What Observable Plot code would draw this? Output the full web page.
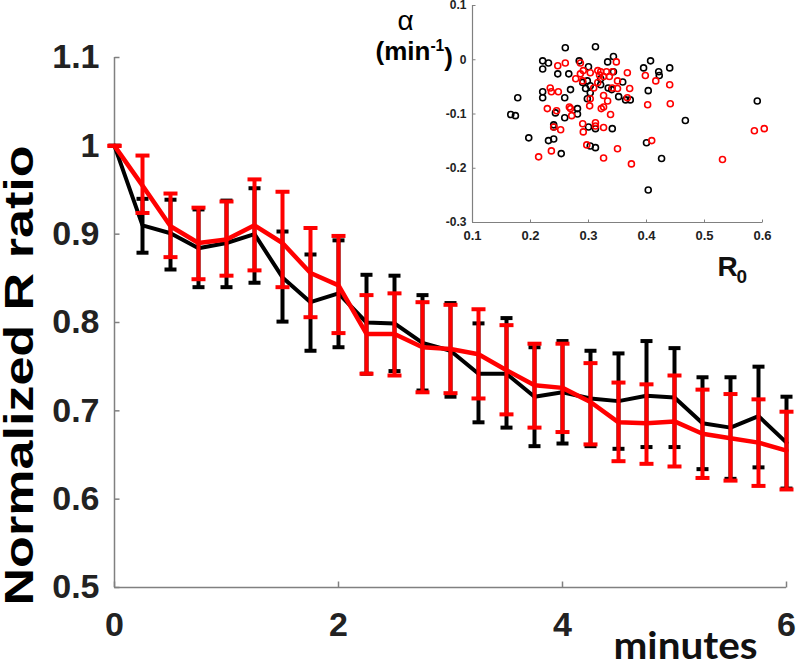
<!DOCTYPE html>
<html><head><meta charset="utf-8">
<script src="https://cdn.jsdelivr.net/npm/d3@7"></script>
<script src="https://cdn.jsdelivr.net/npm/@observablehq/plot@0.6"></script>
<style>
html,body{margin:0;padding:0;background:#fff;}
#wrap{position:relative;width:800px;height:666px;overflow:hidden;background:#fff;}
#wrap svg{position:absolute;left:0;top:0;}
</style></head><body><div id="wrap"></div>
<script>
// ---- main chart data ----
const minutes = [0,0.25,0.5,0.75,1,1.25,1.5,1.75,2,2.25,2.5,2.75,3,3.25,3.5,3.75,4,4.25,4.5,4.75,5,5.25,5.5,5.75,6];
const blackMean = [1.0,0.910,0.901,0.884,0.890,0.900,0.851,0.823,0.833,0.800,0.799,0.777,0.768,0.742,0.742,0.716,0.721,0.714,0.711,0.717,0.715,0.686,0.681,0.694,0.664];
const blackHi   = [1.0,0.940,0.939,0.928,0.938,0.952,0.903,0.877,0.893,0.854,0.853,0.831,0.822,0.799,0.805,0.772,0.779,0.768,0.765,0.779,0.771,0.738,0.738,0.750,0.716];
const blackLo   = [1.0,0.879,0.860,0.840,0.840,0.845,0.801,0.768,0.772,0.742,0.745,0.723,0.716,0.687,0.681,0.660,0.663,0.660,0.657,0.659,0.659,0.634,0.623,0.636,0.612];
const redMean = [1.0,0.955,0.909,0.890,0.894,0.910,0.890,0.856,0.842,0.787,0.787,0.772,0.770,0.764,0.746,0.729,0.726,0.710,0.687,0.686,0.688,0.674,0.669,0.664,0.655];
const redHi   = [1.0,0.989,0.946,0.930,0.937,0.962,0.948,0.907,0.898,0.831,0.833,0.823,0.820,0.815,0.797,0.776,0.776,0.754,0.732,0.730,0.740,0.724,0.719,0.713,0.699];
const redLo   = [1.0,0.924,0.874,0.849,0.853,0.859,0.840,0.806,0.788,0.742,0.740,0.721,0.720,0.714,0.696,0.681,0.676,0.662,0.643,0.640,0.637,0.624,0.621,0.615,0.611];
const xDomain = [0,6];
const yDomain = [0.5,1.1];
const xTicks = [0,2,4,6];
const yTicks = [0.5,0.6,0.7,0.8,0.9,1,1.1];

// ---- inset data ----
const blackR0 = [0.260,0.312,0.221,0.231,0.221,0.178,0.221,0.221,0.247,0.266,0.284,0.300,0.333,0.343,0.298,0.290,0.303,0.295,0.303,0.298,0.269,0.259,0.281,0.243,0.259,0.321,0.407,0.395,0.440,0.421,0.422,0.343,0.359,0.321,0.334,0.340,0.403,0.352,0.364,0.372,0.591,0.467,0.341,0.400,0.426,0.403,0.166,0.174,0.197,0.231,0.240,0.253,0.240,0.240,0.300,0.312,0.303,0.312,0.281];
const blackAlpha = [0.022,0.024,-0.002,-0.006,-0.017,-0.070,-0.059,-0.070,-0.026,-0.026,-0.002,-0.013,-0.004,0.006,-0.039,-0.042,-0.048,-0.053,-0.061,-0.072,-0.055,-0.070,-0.090,-0.098,-0.107,-0.035,-0.002,-0.015,-0.015,-0.022,-0.029,-0.022,-0.041,-0.046,-0.052,-0.055,-0.057,-0.068,-0.074,-0.074,-0.076,-0.112,-0.127,-0.153,-0.182,-0.240,-0.101,-0.103,-0.144,-0.149,-0.146,-0.173,-0.120,-0.124,-0.124,-0.127,-0.159,-0.162,-0.100];
const redR0 = [0.247,0.260,0.286,0.278,0.286,0.291,0.303,0.316,0.319,0.316,0.309,0.234,0.236,0.248,0.229,0.245,0.267,0.269,0.302,0.303,0.290,0.348,0.321,0.331,0.341,0.326,0.336,0.367,0.398,0.416,0.350,0.440,0.341,0.350,0.371,0.326,0.333,0.367,0.402,0.441,0.326,0.322,0.338,0.326,0.586,0.603,0.409,0.350,0.326,0.374,0.531,0.214,0.236,0.240,0.252,0.271,0.290,0.291,0.297,0.312,0.312];
const redAlpha = [-0.011,-0.006,-0.006,-0.035,-0.026,-0.020,-0.024,-0.020,-0.028,-0.042,-0.052,-0.052,-0.059,-0.059,-0.090,-0.094,-0.087,-0.090,-0.085,-0.072,-0.039,-0.004,-0.022,-0.022,-0.022,-0.031,-0.031,-0.024,-0.029,-0.039,-0.039,-0.046,-0.052,-0.053,-0.053,-0.066,-0.076,-0.070,-0.083,-0.081,-0.087,-0.090,-0.101,-0.125,-0.131,-0.127,-0.149,-0.164,-0.181,-0.192,-0.184,-0.179,-0.168,-0.124,-0.129,-0.103,-0.118,-0.133,-0.157,-0.116,-0.122];
const insetXDomain = [0.1,0.6];
const insetYDomain = [-0.3,0.1];
const insetXTicks = [0.1,0.2,0.3,0.4,0.5,0.6];
const insetYTicks = [-0.3,-0.2,-0.1,0,0.1];

const BLACK = "#000000", RED = "#ff0000", AXIS = "#808080", LABEL = "#222222";
const SANS = "'Liberation Sans', Arial, sans-serif";

const black = minutes.map((t,i)=>({t, mean:blackMean[i], hi:blackHi[i], lo:blackLo[i]}));
const red = minutes.map((t,i)=>({t, mean:redMean[i], hi:redHi[i], lo:redLo[i]}));
const blackPts = blackR0.map((r,i)=>({r, a:blackAlpha[i]}));
const redPts = redR0.map((r,i)=>({r, a:redAlpha[i]}));

// custom symbols
const capSym = {draw(ctx,size){const r=Math.sqrt(size/Math.PI);ctx.moveTo(-r,0);ctx.lineTo(r,0);}};
const tickRight = {draw(ctx,size){const r=Math.sqrt(size/Math.PI);ctx.moveTo(0,0);ctx.lineTo(r,0);}};
const tickUp = {draw(ctx,size){const r=Math.sqrt(size/Math.PI);ctx.moveTo(0,0);ctx.lineTo(0,-r);}};

const main = Plot.plot({
  width:800, height:666,
  marginLeft:114, marginRight:14, marginTop:57, marginBottom:79,
  style:{fontFamily:SANS, background:"transparent", overflow:"visible"},
  x:{domain:xDomain}, y:{domain:yDomain},
  marks:[
    Plot.ruleX([xDomain[0]], {stroke:AXIS, strokeWidth:1.5}),
    Plot.ruleY([yDomain[0]], {stroke:AXIS, strokeWidth:1.5}),
    Plot.dot(yTicks, {y:d=>d, frameAnchor:"left", symbol:tickRight, r:5, stroke:AXIS, strokeWidth:1.5, fill:"none"}),
    Plot.dot(xTicks, {x:d=>d, frameAnchor:"bottom", symbol:tickUp, r:6, stroke:AXIS, strokeWidth:1.5, fill:"none"}),
    Plot.axisY({ticks:yTicks, tickSize:0, tickPadding:15, fontSize:34, fontWeight:"bold", fill:LABEL, tickFormat:d=>String(d), label:null}),
    Plot.axisX({ticks:xTicks, tickSize:0, tickPadding:24, fontSize:34, fontWeight:"bold", fill:LABEL, tickFormat:d=>String(d), label:null}),
    // black series
    Plot.ruleX(black, {x:"t", y1:"lo", y2:"hi", stroke:BLACK, strokeWidth:4}),
    Plot.dot(black, {x:"t", y:"hi", symbol:capSym, r:6, stroke:BLACK, strokeWidth:4, fill:"none"}),
    Plot.dot(black, {x:"t", y:"lo", symbol:capSym, r:6, stroke:BLACK, strokeWidth:4, fill:"none"}),
    Plot.line(black, {x:"t", y:"mean", stroke:BLACK, strokeWidth:4}),
    // red series
    Plot.ruleX(red, {x:"t", y1:"lo", y2:"hi", stroke:RED, strokeWidth:4}),
    Plot.dot(red, {x:"t", y:"hi", symbol:capSym, r:7, stroke:RED, strokeWidth:4, fill:"none"}),
    Plot.dot(red, {x:"t", y:"lo", symbol:capSym, r:7, stroke:RED, strokeWidth:4, fill:"none"}),
    Plot.line(red, {x:"t", y:"mean", stroke:RED, strokeWidth:4.5}),
    // titles
    Plot.text(["Normalized R ratio"], {frameAnchor:"left", textAnchor:"start", rotate:-90, dx:-94, dy:283, fontSize:40, fontWeight:"bold", fill:"#000", fontFamily:SANS}),
    Plot.text(["minutes"], {frameAnchor:"bottom-right", textAnchor:"start", dx:-173, dy:71, fontSize:38, fontWeight:"bold", fill:"#111", fontFamily:"Lato, 'Open Sans', sans-serif"})
  ]
});

const inset = Plot.plot({
  width:800, height:666,
  marginLeft:472, marginRight:38, marginTop:5, marginBottom:444,
  style:{fontFamily:SANS, background:"transparent", overflow:"visible"},
  x:{domain:insetXDomain}, y:{domain:insetYDomain},
  marks:[
    Plot.ruleX([insetXDomain[0]], {stroke:AXIS, strokeWidth:1.2}),
    Plot.ruleY([insetYDomain[0]], {stroke:AXIS, strokeWidth:1.2}),
    Plot.dot(insetYTicks, {y:d=>d, frameAnchor:"left", symbol:tickRight, r:3, stroke:AXIS, strokeWidth:1, fill:"none"}),
    Plot.dot(insetXTicks, {x:d=>d, frameAnchor:"bottom", symbol:tickUp, r:3, stroke:AXIS, strokeWidth:1, fill:"none"}),
    Plot.axisY({ticks:insetYTicks, tickSize:0, tickPadding:6, fontSize:12, fontWeight:"bold", fill:LABEL, tickFormat:d=>String(d), label:null}),
    Plot.axisX({ticks:insetXTicks, tickSize:0, tickPadding:8, fontSize:13, fontWeight:"bold", fill:LABEL, tickFormat:d=>String(d), label:null}),
    Plot.dot(blackPts, {x:"r", y:"a", r:3, stroke:BLACK, strokeWidth:1.6, fill:"none"}),
    Plot.dot(redPts, {x:"r", y:"a", r:3, stroke:RED, strokeWidth:1.6, fill:"none"}),
    Plot.text(["α"], {frameAnchor:"top-left", textAnchor:"start", dx:-75, dy:5, fontSize:28, fill:"#000", fontFamily:SANS}),
    Plot.text(["(min-1)"], {frameAnchor:"top-left", textAnchor:"start", dx:-97, dy:36, fontSize:26, fontWeight:"bold", fill:"#000", fontFamily:SANS}),
    Plot.text(["R"], {frameAnchor:"bottom-right", textAnchor:"start", dx:-45, dy:53, fontSize:28, fontWeight:"bold", fill:"#111", fontFamily:SANS}),
    Plot.text(["0"], {frameAnchor:"bottom-right", textAnchor:"start", dx:-26, dy:60, fontSize:19, fontWeight:"bold", fill:"#111", fontFamily:SANS})
  ]
});

const wrap = document.getElementById("wrap");
wrap.appendChild(main);
wrap.appendChild(inset);

// text stretching to match the reference proportions
d3.select(main).selectAll("text").filter(function(){return this.textContent==="Normalized R ratio";})
  .attr("textLength",460).attr("lengthAdjust","spacingAndGlyphs");
d3.select(main).selectAll("text").filter(function(){return this.textContent==="minutes";})
  .attr("textLength",144).attr("lengthAdjust","spacingAndGlyphs");
// superscript for (min-1)
d3.select(inset).selectAll("text").filter(function(){return this.textContent==="(min-1)";})
  .each(function(){
    const t = d3.select(this);
    t.text("");
    t.append("tspan").text("(min");
    t.append("tspan").attr("dy","-0.55em").attr("font-size","60%").text("-1");
    t.append("tspan").attr("dy","0.55em").text(")");
  });
</script>
</body></html>
